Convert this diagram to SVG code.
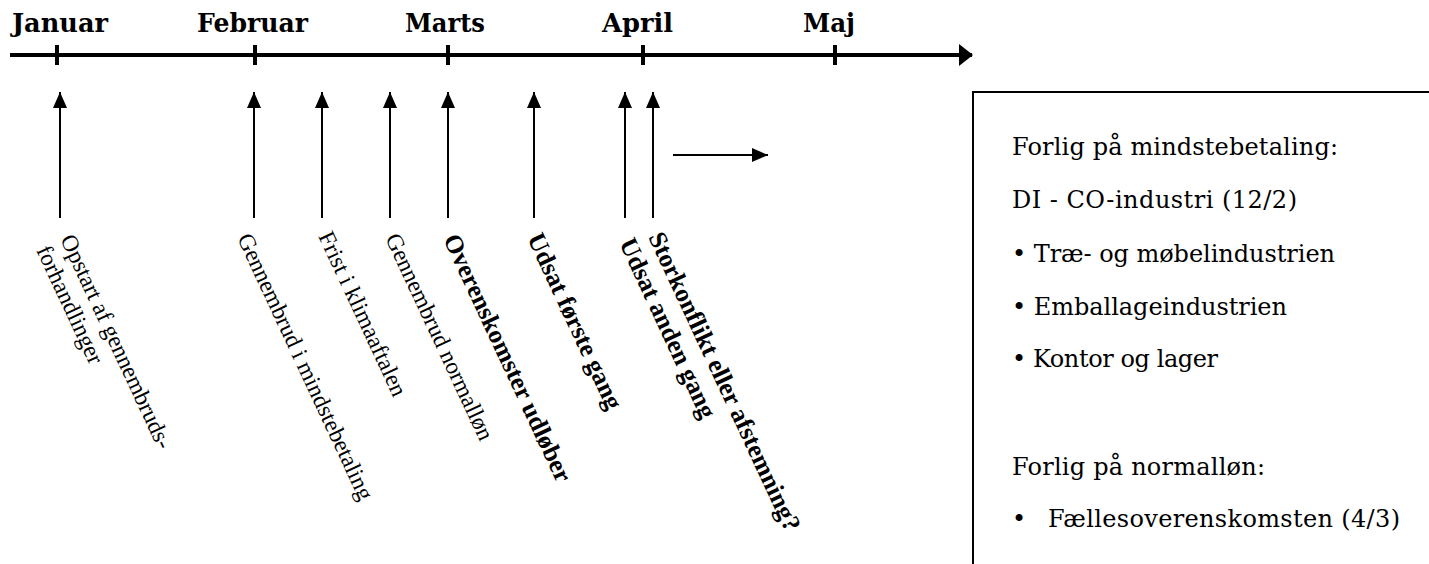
<svg xmlns="http://www.w3.org/2000/svg" width="1429" height="564" viewBox="0 0 1429 564">
<style>
.month{font-family:"DejaVu Serif","Liberation Serif",serif;font-weight:bold;font-size:26px;fill:#000}
.lbl{font-family:"Liberation Serif","Times New Roman",serif;font-size:23.5px;fill:#000}
.lblb{font-family:"Liberation Serif","Times New Roman",serif;font-size:25.5px;font-weight:bold;fill:#000}
.box{font-family:"DejaVu Serif","Liberation Serif",serif;font-size:24px;fill:#000}
.ax{stroke:#000;stroke-width:4;fill:none}
.tick{stroke:#000;stroke-width:4}
.arr{stroke:#000;stroke-width:2;fill:none}
</style>
<defs>
<marker id="ah" markerUnits="userSpaceOnUse" markerWidth="16" markerHeight="16" viewBox="0 0 16 16" refX="16" refY="8" orient="auto">
<path d="M0,1 L16,8 L0,15 z" fill="#000"/>
</marker>
<marker id="bigah" markerUnits="userSpaceOnUse" markerWidth="14" markerHeight="22" viewBox="0 0 14 22" refX="13" refY="11" orient="auto">
<path d="M0,0 L14,11 L0,22 z" fill="#000"/>
</marker>
</defs>
<rect width="1429" height="564" fill="#fff"/>

<g id="timeline">
<line class="ax" x1="10" y1="55" x2="972" y2="55" marker-end="url(#bigah)"/>
<line class="tick" x1="57" y1="45" x2="57" y2="65"/>
<line class="tick" x1="255" y1="45" x2="255" y2="65"/>
<line class="tick" x1="448" y1="45" x2="448" y2="65"/>
<line class="tick" x1="643" y1="45" x2="643" y2="65"/>
<line class="tick" x1="835" y1="45" x2="835" y2="65"/>
</g>

<g id="months">
<text class="month" x="12" y="32" textLength="96" lengthAdjust="spacingAndGlyphs">Januar</text>
<text class="month" x="197" y="32" textLength="111" lengthAdjust="spacingAndGlyphs">Februar</text>
<text class="month" x="405" y="32" textLength="80" lengthAdjust="spacingAndGlyphs">Marts</text>
<text class="month" x="602" y="32" textLength="71" lengthAdjust="spacingAndGlyphs">April</text>
<text class="month" x="803" y="32" textLength="52" lengthAdjust="spacingAndGlyphs">Maj</text>
</g>

<g id="connectors">
<line class="arr" x1="60" y1="218" x2="60" y2="92" marker-end="url(#ah)"/>
<line class="arr" x1="254" y1="218" x2="254" y2="92" marker-end="url(#ah)"/>
<line class="arr" x1="322" y1="218" x2="322" y2="92" marker-end="url(#ah)"/>
<line class="arr" x1="390" y1="218" x2="390" y2="92" marker-end="url(#ah)"/>
<line class="arr" x1="448" y1="218" x2="448" y2="92" marker-end="url(#ah)"/>
<line class="arr" x1="534" y1="218" x2="534" y2="92" marker-end="url(#ah)"/>
<line class="arr" x1="625" y1="218" x2="625" y2="92" marker-end="url(#ah)"/>
<line class="arr" x1="653" y1="218" x2="653" y2="92" marker-end="url(#ah)"/>
<line class="arr" x1="673" y1="155" x2="768" y2="155" marker-end="url(#ah)"/>
</g>

<g id="lbl-opstart">
<text class="lbl" transform="translate(60,239) rotate(65)">Opstart af gennembruds-</text>
<text class="lbl" transform="translate(36,250) rotate(65)">forhandlinger</text>
</g>
<g id="lbl-gennembrud-mindste"><text class="lbl" transform="translate(237,238) rotate(65)">Gennembrud i mindstebetaling</text></g>
<g id="lbl-frist"><text class="lbl" transform="translate(318,236) rotate(65)">Frist i klimaaftalen</text></g>
<g id="lbl-gennembrud-normal"><text class="lbl" transform="translate(385,238) rotate(65)">Gennembrud normalløn</text></g>
<g id="lbl-overenskomster"><text class="lblb" transform="translate(443,239) rotate(65)">Overenskomster udløber</text></g>
<g id="lbl-udsat1"><text class="lblb" transform="translate(527,238) rotate(65)">Udsat første gang</text></g>
<g id="lbl-udsat2"><text class="lblb" transform="translate(619,243) rotate(65)">Udsat anden gang</text></g>
<g id="lbl-storkonflikt"><text class="lblb" transform="translate(648,237) rotate(65)">Storkonflikt eller afstemning?</text></g>

<g id="infobox">
<rect x="973" y="92" width="480" height="500" fill="none" stroke="#000" stroke-width="2"/>
<text class="box" x="1012" y="155" textLength="326">Forlig på mindstebetaling:</text>
<text class="box" x="1012" y="208" textLength="285">DI - CO-industri (12/2)</text>
<text class="box" x="1012" y="262" textLength="323">• Træ- og møbelindustrien</text>
<text class="box" x="1012" y="315" textLength="275">• Emballageindustrien</text>
<text class="box" x="1012" y="367" textLength="206">• Kontor og lager</text>
<text class="box" x="1012" y="475" textLength="253">Forlig på normalløn:</text>
<text class="box" x="1012" y="527">•</text>
<text class="box" x="1048" y="527" textLength="352">Fællesoverenskomsten (4/3)</text>
</g>
</svg>
